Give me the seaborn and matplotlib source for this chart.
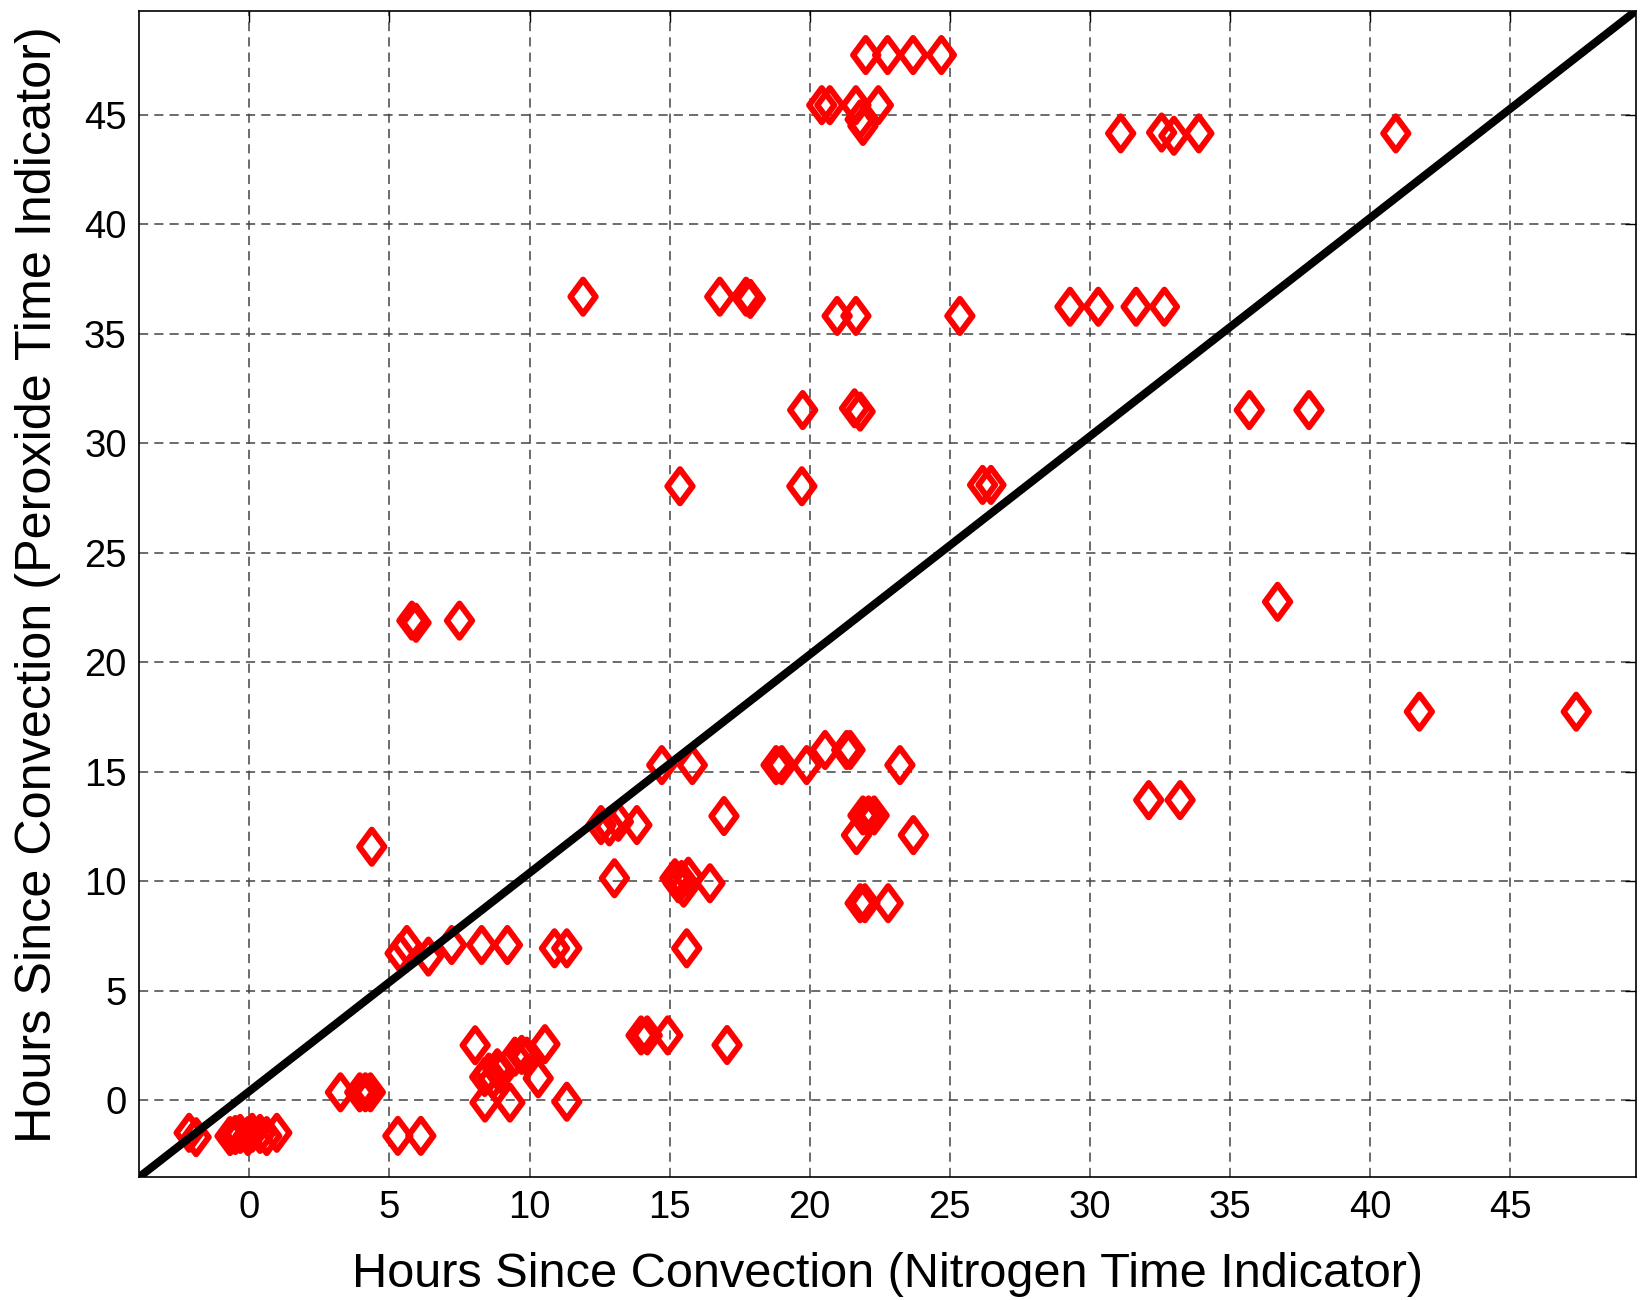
import numpy as np
import pandas as pd
import matplotlib
matplotlib.use("Agg")
import matplotlib.pyplot as plt
from matplotlib.path import Path
import seaborn as sns

# Hours since convection, nitrogen indicator (x) vs peroxide indicator (y)
nitrogen_hours = [
    -2.15, -1.90, -0.69, -0.50, -0.33, -0.05, 0.10, 0.38, 0.62, 0.98, 5.30, 6.12,
    3.25, 3.94, 4.14, 4.32,
    8.06, 10.55, 8.40, 8.55, 8.70, 8.85, 8.95, 9.48, 9.72, 9.90, 10.31,
    8.41, 9.30, 11.33,
    13.98, 14.20, 14.93, 17.05,
    4.37,
    5.38, 5.62, 6.39, 7.22, 8.29, 9.21, 10.89, 11.33, 15.61,
    13.03, 15.19, 15.43, 15.67, 15.31, 15.50, 16.44,
    16.94, 12.55, 12.85, 13.17, 13.83,
    14.72, 15.81, 18.80, 19.00, 19.89, 20.55, 21.32, 21.44, 23.22,
    21.90, 22.10, 22.30, 21.67, 23.70,
    21.80, 21.97, 22.80,
    32.10, 33.22,
    5.80, 5.95, 7.50,
    15.37, 19.72, 26.17, 26.47,
    19.75, 21.60, 21.80, 35.69, 37.82,
    36.70, 41.76, 47.36,
    11.91, 16.79, 17.73, 17.88,
    20.98, 21.65, 25.36,
    29.29, 30.30, 31.65, 32.66,
    31.10, 32.56, 33.00, 33.89, 40.92,
    20.43, 20.72, 21.65, 22.45, 21.80, 21.90,
    22.00, 22.78, 23.69, 24.70,
]
peroxide_hours = [
    -1.50, -1.70, -1.65, -1.60, -1.55, -1.65, -1.50, -1.55, -1.65, -1.50, -1.64, -1.64,
    0.35, 0.35, 0.35, 0.35,
    2.50, 2.55, 1.05, 1.25, 0.95, 1.45, 1.20, 1.98, 2.06, 1.98, 0.99,
    -0.12, -0.12, -0.08,
    2.95, 2.95, 2.95, 2.51,
    11.57,
    6.70, 7.08, 6.55, 7.08, 7.08, 7.08, 6.93, 6.93, 6.93,
    10.13, 10.13, 10.05, 10.20, 9.90, 9.70, 9.90,
    12.97, 12.56, 12.50, 12.71, 12.56,
    15.30, 15.30, 15.30, 15.30, 15.30, 15.99, 15.99, 15.99, 15.30,
    13.00, 13.00, 13.00, 12.10, 12.10,
    8.99, 8.99, 8.99,
    13.70, 13.70,
    21.90, 21.80, 21.90,
    28.04, 28.04, 28.10, 28.10,
    31.52, 31.60, 31.45, 31.52, 31.52,
    22.76, 17.74, 17.74,
    36.70, 36.70, 36.70, 36.60,
    35.82, 35.82, 35.82,
    36.24, 36.24, 36.24, 36.24,
    44.16, 44.20, 44.05, 44.16, 44.16,
    45.45, 45.45, 45.45, 45.45, 44.80, 44.50,
    47.74, 47.74, 47.74, 47.74,
]

# Reference line endpoints
line_x = [-3.93, 49.48]
line_y = [-3.52, 49.75]

x_ticks = list(range(0, 50, 5))
y_ticks = list(range(0, 50, 5))

x_label = "Hours Since Convection (Nitrogen Time Indicator)"
y_label = "Hours Since Convection (Peroxide Time Indicator)"

df = pd.DataFrame({"nitrogen": nitrogen_hours, "peroxide": peroxide_hours})

sns.set_style("white")
plt.rcParams["font.family"] = ["Liberation Sans", "DejaVu Sans"]
plt.rcParams["text.color"] = "black"
plt.rcParams["axes.labelcolor"] = "black"
plt.rcParams["xtick.color"] = "black"
plt.rcParams["ytick.color"] = "black"

fig = plt.figure(figsize=(16.48, 13.0), dpi=100)
ax = fig.add_axes([0.0845, 0.0946, 0.9080, 0.8969])

# Open diamond, taller than wide
diamond = Path([(0, 1), (0.74, 0), (0, -1), (-0.74, 0), (0, 1)],
               [Path.MOVETO, Path.LINETO, Path.LINETO, Path.LINETO, Path.CLOSEPOLY])

sns.scatterplot(data=df, x="nitrogen", y="peroxide", marker=diamond, s=600,
                color="red", linewidth=4.4, ax=ax, zorder=3, legend=False)
pts = ax.collections[-1]
pts.set_facecolor("none")
pts.set_edgecolor("#ff0000")
pts.set_linewidth(4.4)

sns.lineplot(x=line_x, y=line_y, color="black", linewidth=5.8, ax=ax,
             zorder=4, sort=False)

ax.set_xlim(line_x[0], line_x[1])
ax.set_ylim(line_y[0], line_y[1])
ax.set_xticks(x_ticks)
ax.set_yticks(y_ticks)

ax.grid(True, color="#444444", linestyle=(0, (6, 4)), linewidth=1.1, zorder=0)
ax.set_axisbelow(True)

for s in ax.spines.values():
    s.set_color("black")
    s.set_linewidth(1.2)
    s.set_visible(True)

ax.tick_params(axis="both", which="major", direction="in", length=8, width=1.0,
               top=True, right=True, labelsize=27.5, pad=9, colors="black")

ax.set_xlabel(x_label, fontsize=35.1, labelpad=19)
ax.set_ylabel(y_label, fontsize=36.3, labelpad=17)
ax.yaxis.set_label_coords(-0.052, 0.508)

fig.savefig("out.png", dpi=100, facecolor="white")
